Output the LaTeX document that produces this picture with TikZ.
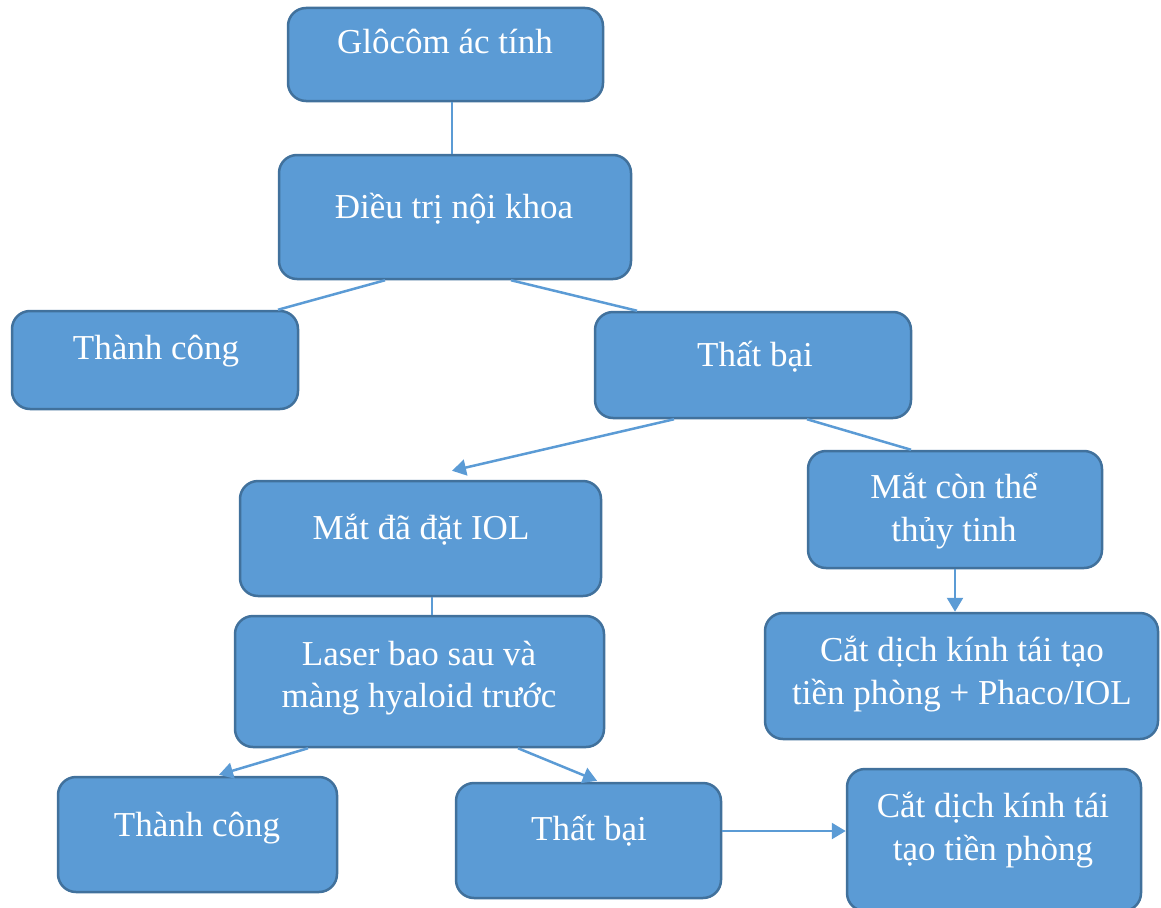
\documentclass[tikz,border=0pt]{standalone}
\usepackage{fontspec}
\setmainfont{Liberation Serif}
\usetikzlibrary{arrows.meta,calc}
\definecolor{boxfill}{HTML}{5B9BD5}
\definecolor{boxline}{HTML}{41719C}
\definecolor{conn}{HTML}{5B9BD5}
\tikzset{
  box/.style={draw=boxline, line width=2.5pt, fill=boxfill, rounded corners=18pt, inner sep=0pt},
  txt/.style={text=white, font=\fontsize{35}{43}\selectfont, anchor=base, inner sep=0pt},
  link/.style={draw=conn, line width=2.5pt},
  arr/.style={link, -{Triangle[length=14pt,width=16pt]}}
}
\begin{document}
\begin{tikzpicture}[x=1pt,y=-1pt]
\useasboundingbox (0,0) rectangle (1161,907);
% boxes
\node[box, minimum width=315pt, minimum height=93pt] (g) at (445.5,54.5) {};
\node[box, minimum width=352pt, minimum height=124pt] (d) at (455,217) {};
\node[box, minimum width=286pt, minimum height=98pt] (tc1) at (155,360) {};
\node[box, minimum width=316pt, minimum height=106pt] (tb1) at (753,365) {};
\node[box, minimum width=361pt, minimum height=115pt] (iol) at (420.5,538.5) {};
\node[box, minimum width=294pt, minimum height=117pt] (con) at (955,509.5) {};
\node[box, minimum width=369pt, minimum height=131pt] (laser) at (419.5,681.5) {};
\node[box, minimum width=393pt, minimum height=126pt] (phaco) at (961.5,676) {};
\node[box, minimum width=279pt, minimum height=115pt] (tc2) at (197.5,834.5) {};
\node[box, minimum width=265pt, minimum height=115pt] (tb2) at (588.5,840.5) {};
\node[box, minimum width=294pt, minimum height=142pt] (cat) at (994,840) {};
% texts
\node[txt] (tg) at (445,54) {Glôcôm ác tính};
\node[txt] (td) at (454,218) {Điều trị nội khoa};
\node[txt] (ttc1) at (156,359) {Thành công};
\node[txt] (ttb1) at (755,366) {Thất bại};
\node[txt] (tiol) at (421,539) {Mắt đã đặt IOL};
\node[txt] (tcon1) at (954,498) {Mắt còn thể};
\node[txt] (tcon2) at (954,541) {thủy tinh};
\node[txt] (tlas1) at (419,665) {Laser bao sau và};
\node[txt] (tlas2) at (419,707) {màng hyaloid trước};
\node[txt] (tph1) at (962,661) {Cắt dịch kính tái tạo};
\node[txt] (tph2) at (962,704) {tiền phòng + Phaco/IOL};
\node[txt] (ttc2) at (197,836) {Thành công};
\node[txt] (ttb2) at (589,840) {Thất bại};
\node[txt] (tcat1) at (993,817) {Cắt dịch kính tái};
\node[txt] (tcat2) at (993,860) {tạo tiền phòng};
% connectors
\draw[link] ($(g.south)+(6.5,0)$) -- ($(d.north)+(-3,0)$);
\draw[link] ($(d.south)+(-70,0)$) -- ($(tc1.north)+(123,0)$);
\draw[link] ($(d.south)+(56,0)$) -- ($(tb1.north)+(-116,0)$);
\draw[arr] ($(tb1.south)+(-79,0)$) -- ($(iol.north)+(31.5,-9)$);
\draw[link] ($(tb1.south)+(54,0)$) -- ($(con.north)+(-44,0)$);
\draw[link] ($(iol.south)+(11.5,0)$) -- ($(laser.north)+(12.5,0)$);
\draw[arr] (con.south) -- (con.south |- phaco.north);
\draw[arr] ($(laser.south)+(-111.5,0)$) -- ($(tc2.north)+(21.5,-1)$);
\draw[arr] ($(laser.south)+(98.5,0)$) -- ($(tb2.north)+(8.5,-1)$);
\draw[arr] ($(tb2.east)+(0,-9.5)$) -- ($(tb2.east -| cat.west)+(0,-9.5)$);
\end{tikzpicture}
\end{document}
